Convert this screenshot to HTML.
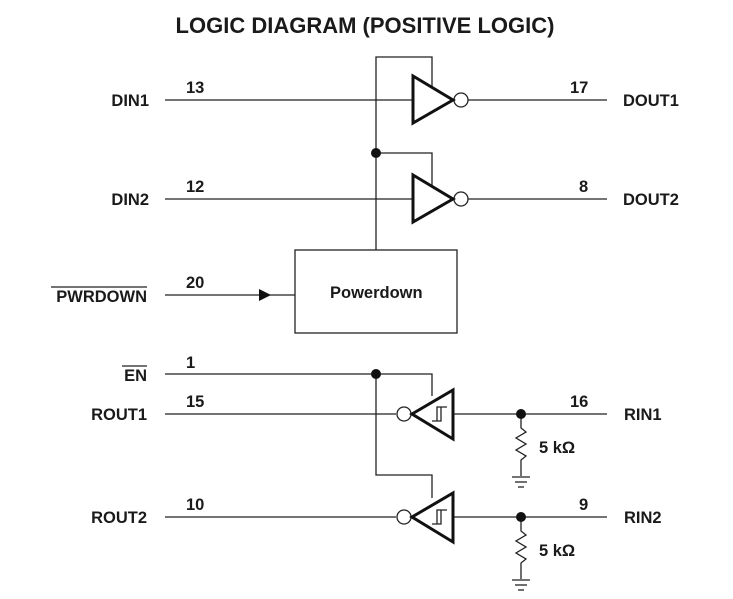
<!DOCTYPE html>
<html><head><style>body{margin:0;background:#fff}svg{display:block}text{font-family:"Liberation Sans",sans-serif;font-weight:bold;fill:#1a1a1a}</style></head>
<body>
<svg width="733" height="599" viewBox="0 0 733 599" xmlns="http://www.w3.org/2000/svg">
<text x="365" y="33" font-size="22" text-anchor="middle">LOGIC DIAGRAM (POSITIVE LOGIC)</text>
<g stroke="#222" stroke-width="1.3" fill="none">
<line x1="165" y1="100" x2="412" y2="100"/>
<line x1="468" y1="100" x2="607" y2="100"/>
<line x1="165" y1="199" x2="412" y2="199"/>
<line x1="468" y1="199" x2="607" y2="199"/>
<polyline points="376,250 376,57 432,57 432,88"/>
<polyline points="376,153 432,153 432,187"/>
<line x1="165" y1="295" x2="295" y2="295"/>
<rect x="295" y="250" width="162" height="83"/>
<polyline points="165,374 432,374 432,396"/>
<polyline points="376,374 376,475 432,475 432,498"/>
<line x1="165" y1="414" x2="396" y2="414"/>
<line x1="453" y1="414" x2="607" y2="414"/>
<line x1="165" y1="517" x2="396" y2="517"/>
<line x1="453" y1="517" x2="607" y2="517"/>
<polyline points="521,414 521,428 526,432 516,438 526,444 516,450 526,456 521,460 521,476"/>
<polyline points="521,517 521,531 526,535 516,541 526,547 516,553 526,559 521,563 521,579"/>
<line x1="512" y1="477" x2="530" y2="477"/><line x1="515" y1="482" x2="527" y2="482"/><line x1="518" y1="487" x2="524" y2="487"/>
<line x1="512" y1="580" x2="530" y2="580"/><line x1="515" y1="585" x2="527" y2="585"/><line x1="518" y1="590" x2="524" y2="590"/>
<path d="M432 421 H441 V407 M437 421 V407 H447"/>
<path d="M432 524 H441 V510 M437 524 V510 H447"/>
<circle cx="461" cy="100" r="7" fill="#fff"/>
<circle cx="461" cy="199" r="7" fill="#fff"/>
<circle cx="404" cy="414" r="7" fill="#fff"/>
<circle cx="404" cy="517" r="7" fill="#fff"/>
</g>
<g stroke="#111" stroke-width="3" fill="none" stroke-linejoin="miter">
<polygon points="413,76 413,123 453,100"/>
<polygon points="413,175 413,222 453,199"/>
<polygon points="453,390 453,439 412,414"/>
<polygon points="453,493 453,542 412,517"/>
</g>
<polygon points="259,289 271,295 259,301" fill="#111"/>
<g fill="#111">
<circle cx="376" cy="153" r="5"/><circle cx="376" cy="374" r="5"/>
<circle cx="521" cy="414" r="5"/><circle cx="521" cy="517" r="5"/>
</g>
<g font-size="16.5">
<text x="149" y="106" text-anchor="end">DIN1</text>
<text x="149" y="205" text-anchor="end">DIN2</text>
<text x="147" y="302" text-anchor="end">PWRDOWN</text>
<line x1="51" y1="287" x2="147" y2="287" stroke="#222" stroke-width="1.2"/>
<text x="147" y="381" text-anchor="end">EN</text>
<line x1="122" y1="366" x2="147" y2="366" stroke="#222" stroke-width="1.2"/>
<text x="147" y="420" text-anchor="end">ROUT1</text>
<text x="147" y="523" text-anchor="end">ROUT2</text>
<text x="623" y="106">DOUT1</text>
<text x="623" y="205">DOUT2</text>
<text x="624" y="420">RIN1</text>
<text x="624" y="523">RIN2</text>
<text x="186" y="93">13</text>
<text x="186" y="192">12</text>
<text x="186" y="288">20</text>
<text x="186" y="368">1</text>
<text x="186" y="407">15</text>
<text x="186" y="510">10</text>
<text x="570" y="93">17</text>
<text x="579" y="192">8</text>
<text x="570" y="407">16</text>
<text x="579" y="510">9</text>
<text x="539" y="453">5 kΩ</text>
<text x="539" y="556">5 kΩ</text>
<text x="330" y="298">Powerdown</text>
</g>
</svg>
</body></html>
